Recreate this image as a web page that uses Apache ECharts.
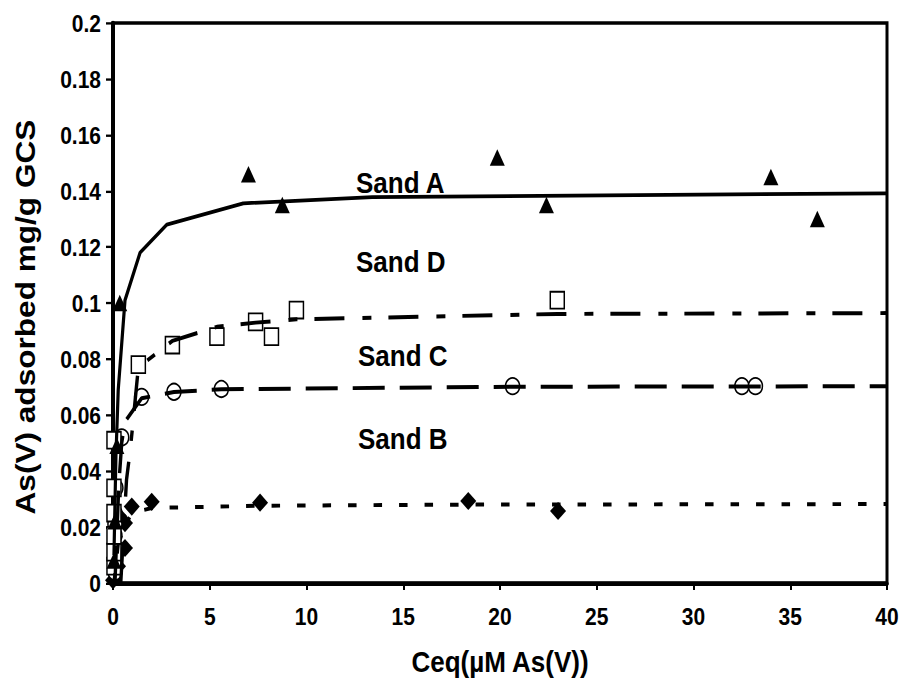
<!DOCTYPE html>
<html>
<head>
<meta charset="utf-8">
<script src="https://cdn.jsdelivr.net/npm/echarts@6/dist/echarts.min.js"></script>
<style>
html,body{margin:0;padding:0;background:#fff;overflow:hidden;width:906px;height:688px}
#c{width:906px;height:588px;transform:scaleY(1.17);transform-origin:0 0}
</style>
</head>
<body>
<div id="c"></div>
<script>
// ---- data ----
var xTicks = [0, 5, 10, 15, 20, 25, 30, 35, 40];
var yTicks = [0, 0.02, 0.04, 0.06, 0.08, 0.1, 0.12, 0.14, 0.16, 0.18, 0.2];

var sandAPoints = [[0.05,0.008],[0.1,0.022],[0.2,0.049],[0.35,0.1],[7.0,0.146],[8.75,0.135],[19.86,0.152],[22.4,0.135],[34.0,0.145],[36.4,0.130]];
var sandDPoints = [[0.05,0.006],[0.05,0.011],[0.05,0.017],[0.05,0.025],[0.05,0.034],[0.05,0.051],[1.31,0.078],[3.07,0.085],[5.37,0.088],[7.37,0.0933],[8.19,0.088],[9.48,0.0975],[22.96,0.101]];
var sandCPoints = [[0.1,0.004],[0.1,0.009],[0.1,0.013],[0.1,0.017],[0.1,0.021],[0.1,0.025],[0.15,0.034],[0.45,0.052],[1.48,0.0665],[3.15,0.0683],[5.6,0.0693],[20.65,0.0703],[32.5,0.0703],[33.2,0.0703]];
var sandBPoints = [[0.0,0.001],[0.26,0.006],[0.62,0.0125],[0.1,0.0165],[0.62,0.0214],[0.3,0.024],[0.97,0.0273],[2.0,0.029],[7.6,0.0287],[18.36,0.0293],[23.0,0.0257]];

var sandAFit = [[0.05,0.01],[0.15,0.045],[0.27,0.069],[0.62,0.101],[1.4,0.118],[2.78,0.128],[6.73,0.1356],[13.4,0.1378],[40,0.1392]];
var sandDFit = [[0.4,0.0],[0.7,0.037],[0.9,0.048],[1.31,0.077],[3.07,0.0865],[5.37,0.0915],[7.37,0.093],[9.48,0.0942],[22.96,0.0961],[40,0.0964]];
var sandCFit = [[0.1,0.0],[0.3,0.035],[0.45,0.05],[0.62,0.0576],[1.48,0.066],[3.15,0.0682],[5.6,0.0692],[20.65,0.0701],[32.5,0.0702],[40,0.0703]];
var sandBFit = [[0.05,0.0],[0.3,0.016],[0.97,0.025],[2.0,0.0268],[7.6,0.0276],[18.36,0.028],[40,0.0282]];

var labels = ['Sand A', 'Sand D', 'Sand C', 'Sand B'];

var FONT = '"Liberation Sans", Arial, sans-serif';
var chart = echarts.init(document.getElementById('c'), null, {renderer: 'svg'});

function lineSeries(data, type, w) {
  return {type: 'line', data: data, showSymbol: false, symbol: 'none', z: 3, silent: true,
    lineStyle: {color: '#000', width: w, type: type, cap: 'butt', opacity: 1}, animation: false};
}
function scatterSeries(data, symbol, size, filled) {
  return {type: 'scatter', data: data, symbol: symbol, symbolSize: size, z: 2, animation: false,
    itemStyle: filled ? {color: '#000', borderWidth: 0, opacity: 1}
                      : {color: '#fff', opacity: 1, borderColor: '#000', borderWidth: 1.5}};
}

var option = {
  backgroundColor: '#fff',
  animation: false,
  grid: {left: 113, right: 19, top: 19.7, bottom: 89.7, show: true, borderColor: '#000', borderWidth: 3},
  xAxis: {
    type: 'value', min: 0, max: 40, interval: 5,
    name: 'Ceq(µM As(V))', nameLocation: 'middle', nameGap: 54,
    nameTextStyle: {fontFamily: FONT, fontWeight: 'bold', fontSize: 26, color: '#000'},
    axisLine: {show: true, onZero: false, lineStyle: {color: '#000', width: 3.5}},
    axisTick: {show: true, inside: false, length: 6, lineStyle: {color: '#000', width: 2}},
    axisLabel: {fontFamily: FONT, fontWeight: 'bold', fontSize: 21, color: '#000', margin: 18,
      formatter: function (v) { return xTicks.indexOf(v) >= 0 ? String(v) : ''; }},
    splitLine: {show: false}
  },
  yAxis: {
    type: 'value', min: 0, max: 0.2, interval: 0.02,
    name: 'As(V) adsorbed mg/g GCS', nameLocation: 'middle', nameGap: 74, nameRotate: 90,
    nameTextStyle: {fontFamily: FONT, fontWeight: 'bold', fontSize: 27, color: '#000', padding: [0, 24, 0, 0]},
    axisLine: {show: true, onZero: false, lineStyle: {color: '#000', width: 4}},
    axisTick: {show: true, inside: false, length: 7, lineStyle: {color: '#000', width: 2}},
    axisLabel: {fontFamily: FONT, fontWeight: 'bold', fontSize: 21, color: '#000', margin: 12,
      formatter: function (v) {
        for (var i = 0; i < yTicks.length; i++) { if (Math.abs(yTicks[i] - v) < 1e-9) return String(yTicks[i]); }
        return '';
      }},
    splitLine: {show: false}
  },
  graphic: [
    {type: 'text', x: 356, y: 155.6, style: {text: labels[0], font: 'bold 26px ' + FONT, fill: '#000', verticalAlign: 'middle'}},
    {type: 'text', x: 356, y: 223.1, style: {text: labels[1], font: 'bold 26px ' + FONT, fill: '#000', verticalAlign: 'middle'}},
    {type: 'text', x: 358, y: 303.4, style: {text: labels[2], font: 'bold 26px ' + FONT, fill: '#000', verticalAlign: 'middle'}},
    {type: 'text', x: 358, y: 374.4, style: {text: labels[3], font: 'bold 26px ' + FONT, fill: '#000', verticalAlign: 'middle'}}
  ],
  series: [
    scatterSeries(sandBPoints, 'diamond', [16, 15.5], true),
    scatterSeries(sandCPoints, 'circle', [14, 14], false),
    scatterSeries(sandDPoints, 'rect', [14, 14.5], false),
    scatterSeries(sandAPoints, 'triangle', [15, 14], true),
    lineSeries(sandAFit, 'solid', 3.2),
    lineSeries(sandDFit, [30, 18, 9, 17], 3.4),
    lineSeries(sandCFit, [32, 15], 3.4),
    lineSeries(sandBFit, [8.5, 17], 3.4)
  ]
};
chart.setOption(option);
</script>
</body>
</html>
